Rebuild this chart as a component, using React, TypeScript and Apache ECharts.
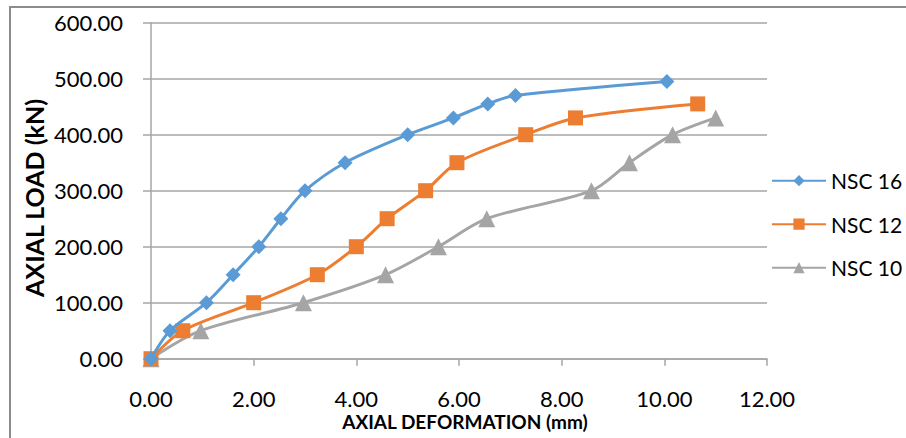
import React, { useEffect, useRef } from "react";
import * as echarts from "echarts";

const nsc16X = [0, 0.37, 1.08, 1.6, 2.1, 2.53, 3.0, 3.78, 5.0, 5.89, 6.56, 7.1, 10.05];
const nsc16Y = [0, 50, 100, 150, 200, 250, 300, 350, 400, 430, 455, 470, 495];
const nsc12X = [0, 0.62, 2.0, 3.24, 4.0, 4.6, 5.35, 5.96, 7.3, 8.27, 10.65];
const nsc12Y = [0, 50, 100, 150, 200, 250, 300, 350, 400, 430, 455];
const nsc10X = [0, 0.97, 2.97, 4.57, 5.6, 6.54, 8.58, 9.32, 10.16, 11.0];
const nsc10Y = [0, 50, 100, 150, 200, 250, 300, 350, 400, 430];
const seriesNames = ["NSC 16", "NSC 12", "NSC 10"];
const colors = ["#5B9BD5", "#ED7D31", "#A5A5A5"];
const symbols = ["diamond", "rect", "triangle"];

const FONT = "Lato, 'Open Sans', sans-serif";

export default function App() {
  const ref = useRef<HTMLDivElement>(null);
  useEffect(() => {
    if (!ref.current) return;
    const chart = echarts.init(ref.current, null, { renderer: "svg" });
    const xs = [nsc16X, nsc12X, nsc10X];
    const ys = [nsc16Y, nsc12Y, nsc10Y];
    const symbolSizes = [15, 15, 17];
    chart.setOption({
      animation: false,
      backgroundColor: "#ffffff",
      textStyle: { fontFamily: FONT },
      grid: { left: 151, right: 139, top: 22.7, bottom: 79.3 },
      legend: {
        orient: "vertical",
        left: 771,
        top: 169.7,
        padding: 0,
        itemWidth: 54,
        itemHeight: 14,
        itemGap: 21.5,
        data: seriesNames,
        textStyle: { fontFamily: FONT, fontSize: 21, color: "#000", lineHeight: 22, padding: [0, 0, 0, 0] },
      },
      xAxis: {
        type: "value",
        min: 0,
        max: 12,
        interval: 2,
        axisLine: { show: true, lineStyle: { color: "#A6A6A6", width: 1.5 } },
        axisTick: { show: true, length: 7, lineStyle: { color: "#A6A6A6", width: 1.5 } },
        splitLine: { show: false },
        axisLabel: {
          margin: 29,
          fontSize: 22,
          color: "#000",
          fontFamily: FONT,
          formatter: (v: number) => v.toFixed(2),
        },
      },
      yAxis: {
        type: "value",
        min: 0,
        max: 600,
        interval: 100,
        axisLine: { show: true, lineStyle: { color: "#A6A6A6", width: 1.5 } },
        axisTick: { show: true, length: 8, lineStyle: { color: "#A6A6A6", width: 1.5 } },
        splitLine: { show: true, lineStyle: { color: "#A6A6A6", width: 1.5 } },
        axisLabel: {
          margin: 28,
          fontSize: 22,
          color: "#000",
          fontFamily: FONT,
          formatter: (v: number) => v.toFixed(2),
        },
      },
      graphic: [
        {
          type: "rect",
          shape: { x: 10, y: 7, width: 1200, height: 1200 },
          style: { fill: "none", stroke: "#8C8C8C", lineWidth: 2 },
          silent: true,
        },
        {
          type: "text",
          x: 34,
          y: 198,
          rotation: Math.PI / 2,
          style: {
            text: "AXIAL LOAD (kN)",
            fontFamily: FONT,
            fontWeight: "bold",
            fontSize: 25,
            fill: "#000",
            textAlign: "center",
            textVerticalAlign: "middle",
          },
        },
        {
          type: "text",
          x: 465,
          y: 421.7,
          style: {
            text: "AXIAL DEFORMATION (mm)",
            fontFamily: FONT,
            fontWeight: "bold",
            fontSize: 19,
            fill: "#000",
            textAlign: "center",
            textVerticalAlign: "middle",
          },
        },
      ],
      series: seriesNames.map((name, i) => ({
        name,
        type: "line",
        smooth: 0.3,
        data: xs[i].map((x, j) => [x, ys[i][j]]),
        symbol: symbols[i],
        symbolSize: symbolSizes[i],
        showAllSymbol: true,
        itemStyle: { color: colors[i] },
        lineStyle: { color: colors[i], width: 3 },
        z: 10 - i,
      })),
    });
    return () => chart.dispose();
  }, []);
  return (
    <div
      ref={ref}
      style={{ position: "absolute", left: 0, top: 0, width: 906, height: 438 }}
    />
  );
}
